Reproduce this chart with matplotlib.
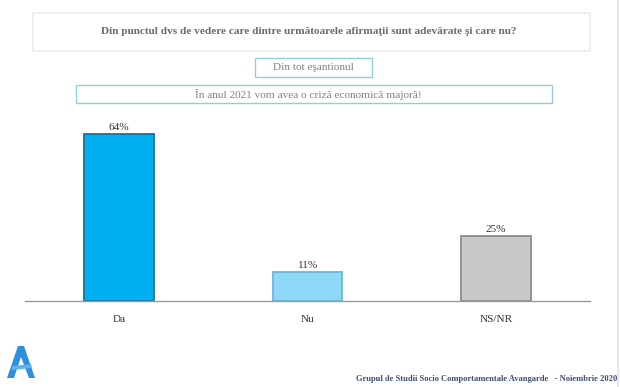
import matplotlib.pyplot as plt
from matplotlib.patches import Rectangle, Polygon

categories = ['Da', 'Nu', 'NS/NR']
values = [64, 11, 25]
bar_colors = ['#00b0f0', '#8ed8f8', '#c8c8c8']
edge_colors = ['#1b6f9c', '#6fb6d6', '#8c8c8c']

title = 'Din punctul dvs de vedere care dintre următoarele afirmaţii sunt adevărate şi care nu?'
subtitle = 'Din tot eşantionul'
question = 'În anul 2021 vom avea o criză economică majoră!'
footer = 'Grupul de Studii Socio Comportamentale Avangarde   - Noiembrie 2020'

W, H = 620, 387
plt.rcParams['font.family'] = ['Liberation Serif', 'DejaVu Serif']

fig = plt.figure(figsize=(W / 100, H / 100), dpi=100)


def px(x0, y0, x1, y1):
    # pixel box (top-left origin) -> figure fraction rect
    return (x0 / W, 1 - y1 / H, (x1 - x0) / W, (y1 - y0) / H)


def box(x0, y0, x1, y1, ec, lw=1.0):
    l, b, w, h = px(x0, y0, x1, y1)
    fig.add_artist(Rectangle((l, b), w, h, transform=fig.transFigure,
                             facecolor='white', edgecolor=ec, linewidth=lw))


# header boxes
box(33, 13, 590, 51, '#ececec', 1.2)
fig.text(309 / W, 1 - 31 / H, title, ha='center', va='center',
         fontsize=8.1, fontweight='bold', color='#6a6a6a')
box(255, 58, 372, 77, '#8fd0d8', 1.0)
fig.text(313 / W, 1 - 67.5 / H, subtitle, ha='center', va='center',
         fontsize=8.1, color='#808080')
box(76, 85, 552, 103, '#8fd0d8', 1.0)
fig.text(308 / W, 1 - 94 / H, question, ha='center', va='center',
         fontsize=8.1, color='#808080')

# chart
ax = fig.add_axes([25 / W, 86 / H, 565 / W, 183 / H])
x = range(len(categories))
bars = ax.bar(x, values, width=0.37, color=bar_colors,
              edgecolor=edge_colors, linewidth=1.3)
for b, v in zip(bars, values):
    ax.text(b.get_x() + b.get_width() / 2, v + 0.8, f'{v}%',
            ha='center', va='bottom', fontsize=8.1, color='#333333')
ax.set_xlim(-0.5, 2.5)
ax.set_ylim(0, 70)
ax.set_xticks(list(x))
ax.set_xticklabels(categories, fontsize=8.1, color='#333333')
ax.tick_params(axis='x', length=0, pad=10)
ax.set_yticks([])
for s in ['top', 'right', 'left']:
    ax.spines[s].set_visible(False)
ax.spines['bottom'].set_color('#9a9a9a')
ax.spines['bottom'].set_linewidth(1.0)

# footer + logo
fig.text(617 / W, 1 - 379 / H, footer, ha='right', va='center',
         fontsize=6.1, fontweight='bold', color='#3d4f70')
logo = Polygon([(7, 378), (18, 346), (24, 346), (35, 378), (29, 378),
                (21, 357), (14, 378)], closed=True)
logo.set_xy([(a / W, 1 - b / H) for a, b in logo.get_xy()])
logo.set_transform(fig.transFigure)
logo.set_facecolor('#2f8fdc')
logo.set_edgecolor('none')
fig.add_artist(logo)
fig.add_artist(Polygon([(12 / W, 1 - 366 / H), (31 / W, 1 - 364 / H),
                        (32 / W, 1 - 368 / H), (12 / W, 1 - 370 / H)],
                       closed=True, transform=fig.transFigure,
                       facecolor='#5db3ef', edgecolor='none'))
fig.add_artist(Rectangle((617 / W, 0), 2 / W, 1, transform=fig.transFigure,
                         facecolor='#e8e8e8', edgecolor='none'))

fig.savefig('out.png', dpi=100)
